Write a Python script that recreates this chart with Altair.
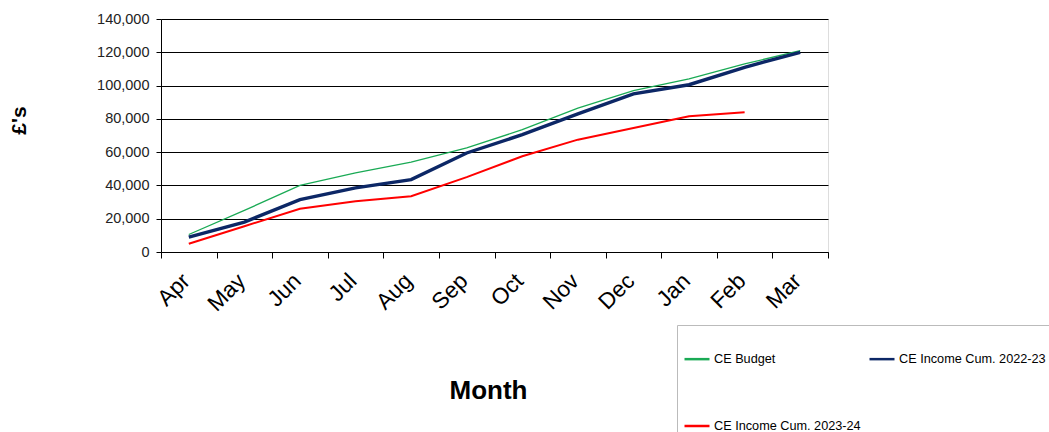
import altair as alt
import pandas as pd

months = ["Apr", "May", "Jun", "Jul", "Aug", "Sep", "Oct", "Nov", "Dec", "Jan", "Feb", "Mar"]
budget = [10500, 25000, 40000, 47500, 54000, 62500, 73500, 86500, 97000, 104000, 113000, 121000]
income_2223 = [9000, 18000, 31500, 38500, 43500, 59500, 70500, 83000, 95000, 100500, 111000, 120000]
income_2324 = [5000, 15500, 26000, 30500, 33500, 45000, 57500, 67500, 74500, 81500, 84000]

series_names = ["CE Budget", "CE Income Cum. 2022-23", "CE Income Cum. 2023-24"]
series_colors = ["#1aaa55", "#0c2766", "#ff0000"]
series_widths = [1.3, 3.4, 2.0]

rows = []
for name, vals, w in zip(series_names, [budget, income_2223, income_2324], series_widths):
    for m, v in zip(months, vals):
        rows.append({"Month": m, "Value": v, "Series": name, "Width": w})
df = pd.DataFrame(rows)

FONT = "Liberation Sans"

chart = alt.Chart(df).mark_line().encode(
    x=alt.X("Month:N", sort=months,
            scale=alt.Scale(type="band", domain=months, paddingInner=0, paddingOuter=0),
            axis=alt.Axis(title="Month", tickBand="extent", labelAngle=315,
                          labelAlign="right", labelBaseline="middle",
                          labelFont=FONT, labelFontSize=22.5, labelColor="#000",
                          labelPadding=19, labelOffset=-3,
                          tickSize=6, tickColor="#000", domainColor="#000",
                          titleFont=FONT, titleFontSize=26, titleFontWeight="bold",
                          titleColor="#000", titleX=327, titleY=138,
                          titleBaseline="middle", grid=False)),
    y=alt.Y("Value:Q",
            scale=alt.Scale(domain=[0, 140000], nice=False),
            axis=alt.Axis(title="£'s", values=[0, 20000, 40000, 60000, 80000, 100000, 120000, 140000],
                          format=",d", labelFont=FONT, labelFontSize=14.5, labelColor="#222",
                          labelPadding=7, tickSize=5, tickColor="#000", domainColor="#000",
                          gridColor="#000", gridWidth=1, gridOpacity=1,
                          titleFont=FONT, titleFontSize=21, titleFontWeight="bold",
                          titleColor="#000", titleX=-142, titleY=101,
                          titleBaseline="middle", titleAlign="center")),
    color=alt.Color("Series:N",
                    scale=alt.Scale(domain=series_names, range=series_colors),
                    legend=alt.Legend(title=" ", orient="none", legendX=516, legendY=306,
                                      direction="horizontal",
                                      columns=2, symbolType="stroke", symbolSize=625,
                                      symbolStrokeWidth=2.5, labelFont=FONT, labelFontSize=12.7,
                                      labelColor="#000", labelOffset=3, labelLimit=400,
                                      columnPadding=3, rowPadding=46,
                                      titleFontSize=14, titlePadding=0, padding=6,
                                      strokeColor="#bbbbbb",
                                      fillColor="#ffffff")),
    strokeWidth=alt.StrokeWidth("Width:Q", scale=None, legend=None),
).properties(
    width=667, height=233,
    autosize=alt.AutoSizeParams(type="none"),
    padding={"left": 161, "top": 19, "right": 221, "bottom": 180},
).configure_view(
    stroke="#999999", strokeWidth=1.5
).configure_legend(
    strokeDash=[3, 2]
).configure(background="#ffffff")

chart.save("out.html", embed_options={"renderer": "svg", "actions": False})
